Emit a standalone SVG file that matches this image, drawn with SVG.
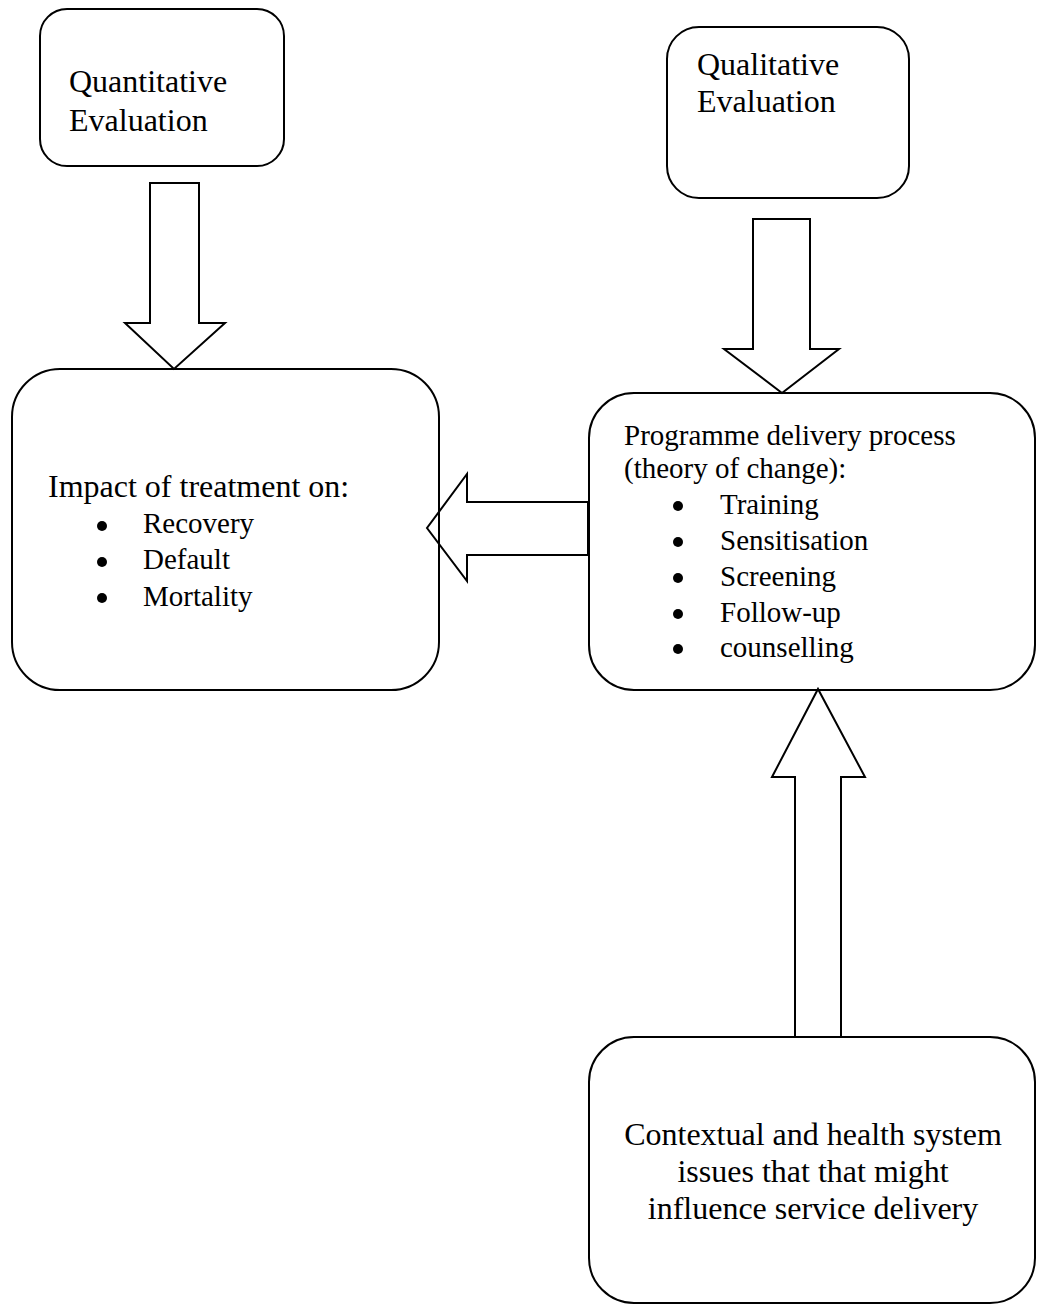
<svg xmlns="http://www.w3.org/2000/svg" width="1037" height="1305" viewBox="0 0 1037 1305">
  <style>
    .box { fill: none; stroke: #000; stroke-width: 2; }
    .arrow { fill: none; stroke: #000; stroke-width: 2; stroke-linejoin: miter; }
    .t32 { font-family: "Liberation Serif", "Times New Roman", serif; font-size: 32px; fill: #000; }
    .t29 { font-family: "Liberation Serif", "Times New Roman", serif; font-size: 29px; fill: #000; }
    .mid { text-anchor: middle; }
    .dot { fill: #000; }
  </style>
  <rect x="0" y="0" width="1037" height="1305" fill="#fff"/>

  <!-- block arrows between the boxes -->
  <g id="connectors">
    <polygon class="arrow" points="150,183 199,183 199,323 225,323 174,369 125,323 150,323"/>
    <polygon class="arrow" points="753,219 810,219 810,349 839,349 782,393 724,349 753,349"/>
    <polygon class="arrow" points="588,502 467,502 467,474 427,528 467,581 467,555 588,555"/>
    <polygon class="arrow" points="795,1037 795,777 772,777 818,689 865,777 841,777 841,1037"/>
  </g>

  <g id="quantitative">
    <rect class="box" x="40" y="9" width="244" height="157" rx="27" ry="27"/>
    <text class="t32" x="69" y="92">Quantitative</text>
    <text class="t32" x="69" y="131">Evaluation</text>
  </g>

  <g id="qualitative">
    <rect class="box" x="667" y="27" width="242" height="171" rx="32" ry="32"/>
    <text class="t32" x="697" y="75">Qualitative</text>
    <text class="t32" x="697" y="112">Evaluation</text>
  </g>

  <g id="impact">
    <rect class="box" x="12" y="369" width="427" height="321" rx="48" ry="48"/>
    <text class="t32" x="48" y="497">Impact of treatment on:</text>
    <circle class="dot" cx="102" cy="526" r="5"/>
    <text class="t29" x="143" y="533">Recovery</text>
    <circle class="dot" cx="102" cy="562" r="5"/>
    <text class="t29" x="143" y="569">Default</text>
    <circle class="dot" cx="102" cy="598" r="5"/>
    <text class="t29" x="143" y="606">Mortality</text>
  </g>

  <g id="programme">
    <rect class="box" x="589" y="393" width="446" height="297" rx="45" ry="45"/>
    <text class="t29" x="624" y="445">Programme delivery process</text>
    <text class="t29" x="624" y="478">(theory of change):</text>
    <circle class="dot" cx="678" cy="506" r="5"/>
    <text class="t29" x="720" y="514">Training</text>
    <circle class="dot" cx="678" cy="542" r="5"/>
    <text class="t29" x="720" y="550">Sensitisation</text>
    <circle class="dot" cx="678" cy="578" r="5"/>
    <text class="t29" x="720" y="586">Screening</text>
    <circle class="dot" cx="678" cy="614" r="5"/>
    <text class="t29" x="720" y="622">Follow-up</text>
    <circle class="dot" cx="678" cy="649" r="5"/>
    <text class="t29" x="720" y="657">counselling</text>
  </g>

  <g id="context">
    <rect class="box" x="589" y="1037" width="446" height="266" rx="45" ry="45"/>
    <text class="t32 mid" x="813" y="1145">Contextual and health system</text>
    <text class="t32 mid" x="813" y="1182">issues that that might</text>
    <text class="t32 mid" x="813" y="1219">influence service delivery</text>
  </g>
</svg>
